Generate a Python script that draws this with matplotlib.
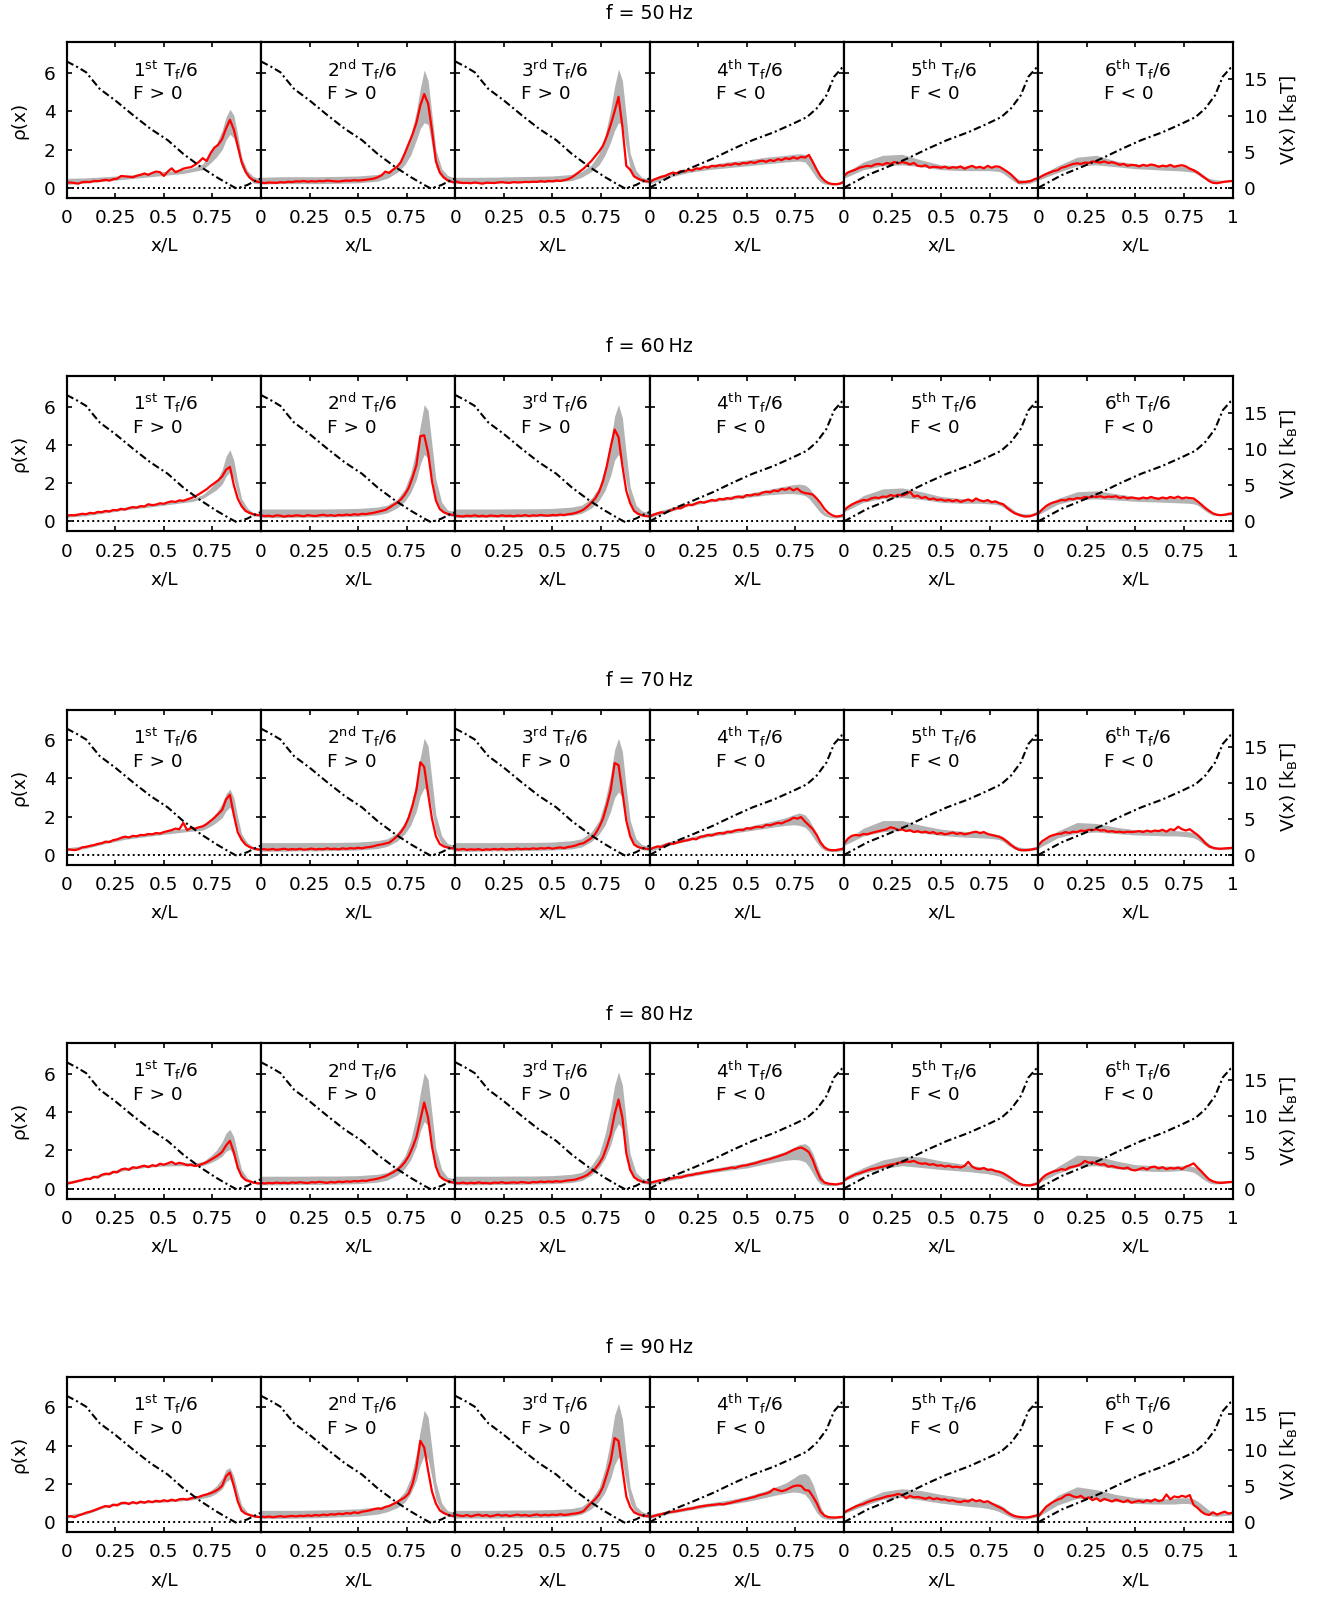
import numpy as np
import matplotlib.pyplot as plt

freqs = [50, 60, 70, 80, 90]
ordinals = [("1", "st"), ("2", "nd"), ("3", "rd"), ("4", "th"), ("5", "th"), ("6", "th")]
force_sign = [">", ">", ">", "<", "<", "<"]

# x positions of the grey band edges
x_band = [0, .1, .2, .3, .4, .5, .6, .65, .7, .74, .77, .8, .82, .84, .86, .88, .9, .93, .96, 1.0]

# tilted potentials V(x) in k_B T (F > 0 and F < 0)
x_vpos = [0, .05, .10, .13, .17, .25, .34, .43, .52, .60, .69, .77, .84, .875, .93, .98, 1.0]
v_pos = [17.5, 16.8, 16.0, 15.0, 13.7, 12.1, 10.1, 8.2, 6.6, 4.7, 2.9, 1.5, 0.4, -0.1, 0.4, 1.1, 1.3]
x_vneg = [0, .12, .225, .33, .43, .53, .64, .74, .81, .86, .91, .95, .99, 1.0]
v_neg = [0, 1.75, 2.9, 4.1, 5.4, 6.6, 7.7, 8.9, 9.8, 11.0, 12.8, 15.4, 16.6, 16.7]

# measured densities rho(x), one list per sixth of the period (x = 0 ... 1, step 0.02)
rho_50 = [
    [.27, .28, .25, .22, .30, .31, .30, .36, .35, .38, .42, .38, .45, .48, .62, .60, .58, .55, .63, .68,
     .75, .68, .78, .85, .82, .62, .85, 1.02, .82, .90, 1.00, 1.05, 1.08, 1.20, 1.35, 1.55, 1.40, 1.80, 2.10, 2.25,
     2.55, 3.10, 3.55, 3.05, 2.20, 1.35, .85, .55, .40, .32, .30],
    [.27, .25, .28, .27, .26, .30, .28, .32, .30, .34, .33, .36, .32, .35, .33, .36, .34, .38, .36, .34,
     .33, .36, .38, .37, .40, .38, .40, .42, .45, .48, .55, .65, .85, .78, .95, 1.10, 1.35, 1.80, 2.30, 2.80,
     3.40, 4.30, 4.90, 4.40, 3.00, 1.40, .80, .55, .40, .32, .26],
    [.35, .28, .25, .26, .24, .28, .25, .22, .27, .26, .25, .28, .30, .27, .26, .30, .28, .29, .31, .30,
     .32, .31, .35, .32, .36, .34, .38, .36, .40, .45, .55, .70, .85, 1.00, 1.20, 1.40, 1.65, 1.90, 2.20, 2.70,
     3.30, 4.00, 4.75, 3.20, 1.15, .95, .60, .48, .40, .35, .32],
    [.30, .42, .50, .58, .62, .72, .80, .75, .88, .85, .95, .90, 1.02, .98, 1.10, 1.05, 1.15, 1.12, 1.18, 1.15,
     1.22, 1.20, 1.28, 1.22, 1.30, 1.28, 1.35, 1.30, 1.38, 1.42, 1.36, 1.45, 1.40, 1.50, 1.45, 1.55, 1.50, 1.60, 1.52, 1.62,
     1.58, 1.72, 1.35, .95, .60, .38, .25, .20, .19, .22, .32],
    [.62, .80, .88, .95, 1.05, 1.10, 1.15, 1.12, 1.22, 1.25, 1.20, 1.30, 1.25, 1.35, 1.28, 1.35, 1.30, 1.22, 1.30, 1.15,
     1.12, 1.18, 1.05, 1.10, 1.08, 1.05, 1.10, 1.02, 1.08, 1.05, 1.12, 1.00, 1.08, 1.15, 1.05, 1.10, 1.02, 1.15, 1.05, 1.12,
     1.10, .98, .85, .70, .50, .28, .30, .32, .35, .45, .52],
    [.50, .62, .72, .80, .88, .92, 1.05, 1.10, 1.18, 1.25, 1.28, 1.25, 1.32, 1.30, 1.38, 1.35, 1.32, 1.38, 1.30, 1.34,
     1.28, 1.20, 1.25, 1.15, 1.20, 1.18, 1.12, 1.20, 1.15, 1.22, 1.18, 1.10, 1.16, 1.12, 1.20, 1.10, 1.15, 1.18, 1.12, 1.00,
     .92, .80, .65, .50, .35, .26, .24, .28, .32, .34, .36],
]
lo_50 = [
    [.18, .25, .35, .45, .55, .65, .75, .85, .95, 1.3, 1.6, 2.0, 2.5, 2.8, 2.6, 1.9, 1.1, .6, .25, .2],
    [.20, .22, .22, .22, .24, .26, .35, .50, .80, 1.20, 1.70, 2.50, 3.10, 3.40, 3.30, 2.20, 1.10, .55, .30, .25],
    [.22, .24, .25, .27, .28, .30, .38, .55, .85, 1.20, 1.70, 2.40, 3.00, 3.40, 3.30, 2.10, 1.00, .50, .30, .25],
    [.20, .55, .80, .95, 1.05, 1.15, 1.25, 1.30, 1.35, 1.38, 1.40, 1.35, 1.10, .80, .50, .30, .20, .15, .15, .25],
    [.50, .95, 1.15, 1.20, 1.10, .95, .90, .90, .90, .90, .88, .85, .75, .60, .45, .30, .20, .20, .25, .40],
    [.40, .80, 1.15, 1.20, 1.10, 1.00, .95, .92, .90, .88, .85, .80, .70, .55, .45, .35, .30, .30, .30, .35],
]
hi_50 = [
    [.50, .52, .58, .65, .75, .85, .95, 1.05, 1.25, 1.8, 2.3, 3.0, 3.7, 4.1, 3.8, 2.8, 1.6, .9, .6, .45],
    [.55, .58, .58, .58, .60, .62, .70, .85, 1.20, 1.80, 2.70, 4.00, 5.20, 6.15, 5.60, 3.80, 2.00, 1.00, .65, .50],
    [.55, .55, .56, .58, .60, .62, .70, .85, 1.20, 1.80, 2.70, 4.10, 5.30, 6.20, 5.60, 3.70, 1.80, .90, .55, .45],
    [.45, .80, 1.00, 1.20, 1.35, 1.45, 1.60, 1.65, 1.70, 1.75, 1.78, 1.75, 1.65, 1.40, 1.00, .60, .35, .25, .25, .40],
    [.75, 1.35, 1.70, 1.75, 1.45, 1.20, 1.15, 1.12, 1.12, 1.10, 1.10, 1.05, .95, .85, .70, .55, .45, .40, .45, .60],
    [.60, 1.15, 1.60, 1.70, 1.40, 1.25, 1.20, 1.18, 1.15, 1.12, 1.10, 1.00, .90, .75, .60, .50, .45, .40, .40, .45],
]

rho_60 = [
    [.30, .33, .32, .36, .40, .38, .45, .42, .50, .48, .55, .52, .60, .58, .66, .62, .70, .75, .72, .80,
     .78, .90, .85, .88, .95, .92, 1.00, 1.05, 1.02, 1.10, 1.08, 1.15, 1.22, 1.30, 1.42, 1.55, 1.68, 1.85, 2.00, 2.15,
     2.35, 2.70, 2.85, 1.90, 1.20, .80, .55, .45, .38, .34, .31],
    [.32, .28, .30, .26, .32, .30, .25, .30, .28, .32, .30, .27, .33, .30, .28, .32, .35, .30, .33, .29,
     .34, .32, .36, .33, .38, .35, .40, .38, .42, .45, .50, .55, .60, .72, .85, .98, 1.15, 1.40, 1.75, 2.30,
     2.95, 4.45, 4.50, 3.60, 2.10, 1.10, .65, .48, .40, .35, .32],
    [.30, .28, .26, .30, .28, .32, .27, .30, .26, .31, .29, .27, .32, .28, .30, .27, .31, .29, .33, .28,
     .32, .30, .34, .31, .30, .34, .32, .36, .33, .38, .40, .45, .52, .62, .78, .98, 1.20, 1.55, 2.10, 2.90,
     3.90, 4.80, 4.40, 2.90, 1.60, .95, .55, .40, .32, .28, .26],
    [.25, .35, .42, .48, .45, .55, .62, .70, .68, .80, .88, .85, .95, 1.02, .98, 1.05, 1.12, 1.08, 1.18, 1.15,
     1.22, 1.18, 1.28, 1.30, 1.25, 1.38, 1.35, 1.42, 1.40, 1.50, 1.55, 1.52, 1.62, 1.58, 1.70, 1.65, 1.75, 1.62, 1.72, 1.55,
     1.48, 1.45, 1.40, 1.20, .95, .65, .45, .32, .26, .28, .35],
    [.58, .75, .88, .98, 1.05, 1.12, 1.10, 1.20, 1.25, 1.22, 1.30, 1.28, 1.38, 1.32, 1.40, 1.35, 1.42, 1.55, 1.30, 1.35,
     1.22, 1.28, 1.15, 1.20, 1.12, 1.15, 1.08, 1.12, 1.05, 1.12, 1.02, 1.08, 1.15, 1.05, 1.20, 1.10, 1.05, 1.12, 1.00, 1.05,
     .95, .90, .70, .55, .42, .35, .28, .26, .28, .35, .43],
    [.42, .62, .80, .92, 1.00, 1.05, 1.12, 1.10, 1.18, 1.15, 1.22, 1.20, 1.28, 1.25, 1.30, 1.28, 1.32, 1.25, 1.30, 1.28,
     1.32, 1.22, 1.28, 1.20, 1.25, 1.22, 1.18, 1.25, 1.20, 1.28, 1.22, 1.18, 1.25, 1.20, 1.28, 1.22, 1.30, 1.20, 1.25, 1.22,
     1.20, 1.05, .88, .70, .55, .42, .35, .33, .35, .40, .42],
]
lo_60 = [
    [.22, .30, .45, .60, .72, .85, .98, 1.05, 1.20, 1.45, 1.65, 1.95, 2.35, 2.60, 2.20, 1.40, .85, .45, .28, .25],
    [.20, .20, .22, .22, .24, .26, .34, .45, .70, 1.05, 1.50, 2.20, 3.00, 3.50, 3.30, 2.30, 1.20, .55, .30, .25],
    [.20, .20, .22, .22, .24, .26, .32, .42, .70, 1.10, 1.60, 2.40, 3.20, 3.50, 3.10, 2.00, 1.00, .45, .28, .22],
    [.20, .50, .80, 1.00, 1.12, 1.25, 1.38, 1.42, 1.45, 1.45, 1.42, 1.35, 1.20, .95, .70, .45, .30, .20, .18, .25],
    [.50, 1.00, 1.20, 1.25, 1.15, 1.00, .95, .95, .95, .92, .90, .85, .75, .62, .50, .38, .28, .22, .25, .38],
    [.35, .90, 1.15, 1.18, 1.12, 1.05, 1.02, 1.00, .98, .96, .95, .92, .85, .70, .55, .42, .32, .30, .30, .35],
]
hi_60 = [
    [.40, .45, .60, .75, .88, 1.00, 1.12, 1.20, 1.40, 1.75, 2.10, 2.70, 3.40, 3.75, 3.20, 2.10, 1.20, .70, .45, .40],
    [.65, .65, .65, .65, .66, .68, .75, .85, 1.15, 1.70, 2.50, 3.80, 5.00, 6.10, 5.80, 4.00, 2.20, 1.00, .60, .50],
    [.65, .65, .65, .66, .66, .68, .75, .85, 1.20, 1.80, 2.80, 4.20, 5.50, 6.10, 5.40, 3.50, 1.80, .85, .55, .45],
    [.40, .70, .95, 1.15, 1.30, 1.45, 1.65, 1.75, 1.85, 1.92, 1.95, 1.90, 1.75, 1.50, 1.15, .80, .50, .30, .28, .40],
    [.70, 1.35, 1.70, 1.75, 1.55, 1.30, 1.20, 1.18, 1.15, 1.12, 1.10, 1.05, .95, .85, .70, .55, .45, .40, .40, .55],
    [.55, 1.20, 1.55, 1.60, 1.45, 1.30, 1.28, 1.25, 1.25, 1.22, 1.20, 1.15, 1.05, .90, .72, .55, .45, .40, .40, .45],
]

rho_70 = [
    [.30, .28, .26, .30, .40, .43, .48, .52, .58, .62, .70, .68, .78, .82, .90, .96, .92, 1.00, .98, 1.05,
     1.04, 1.10, 1.08, 1.15, 1.12, 1.20, 1.25, 1.30, 1.38, 1.35, 1.68, 1.30, 1.42, 1.38, 1.45, 1.50, 1.62, 1.78, 1.95, 2.15,
     2.35, 2.90, 3.15, 2.10, 1.20, .80, .55, .42, .35, .30, .27],
    [.32, .30, .28, .32, .27, .30, .33, .28, .31, .29, .33, .28, .30, .34, .29, .32, .30, .35, .31, .33,
     .30, .35, .32, .36, .34, .38, .35, .40, .42, .46, .52, .55, .60, .65, .80, .98, 1.20, 1.50, 1.95, 2.60,
     3.40, 4.85, 4.60, 3.20, 1.90, .98, .58, .45, .40, .36, .35],
    [.30, .28, .32, .27, .30, .28, .31, .26, .30, .28, .32, .29, .33, .28, .31, .30, .34, .30, .33, .31,
     .35, .32, .36, .34, .38, .33, .37, .40, .36, .42, .45, .50, .58, .62, .75, .88, 1.10, 1.45, 1.90, 2.60,
     3.40, 4.80, 4.70, 3.30, 1.80, .98, .55, .42, .36, .33, .31],
    [.30, .38, .45, .42, .52, .60, .58, .65, .70, .75, .78, .85, .82, .95, .98, 1.05, 1.02, 1.10, 1.15, 1.12,
     1.22, 1.20, 1.28, 1.32, 1.30, 1.40, 1.38, 1.45, 1.48, 1.45, 1.58, 1.55, 1.62, 1.68, 1.65, 1.75, 1.82, 1.95, 1.90, 1.98,
     1.75, 1.55, 1.35, 1.05, .65, .40, .28, .25, .26, .30, .35],
    [.58, .85, 1.00, 1.05, 1.02, 1.10, 1.08, 1.15, 1.20, 1.25, 1.30, 1.35, 1.45, 1.40, 1.30, 1.35, 1.25, 1.30, 1.20, 1.25,
     1.18, 1.22, 1.15, 1.20, 1.10, 1.15, 1.08, 1.12, 1.18, 1.10, 1.15, 1.08, 1.12, 1.18, 1.22, 1.15, 1.20, 1.10, 1.05, 1.00,
     .95, .85, .70, .52, .38, .28, .25, .26, .28, .32, .35],
    [.50, .72, .85, .98, 1.05, 1.10, 1.12, 1.20, 1.15, 1.22, 1.20, 1.28, 1.25, 1.32, 1.30, 1.35, 1.28, 1.30, 1.22, 1.25,
     1.20, 1.22, 1.18, 1.22, 1.20, 1.22, 1.25, 1.20, 1.28, 1.22, 1.28, 1.25, 1.32, 1.22, 1.35, 1.30, 1.48, 1.35, 1.28, 1.35,
     1.20, 1.05, .85, .62, .45, .38, .34, .33, .35, .36, .38],
]
lo_70 = [
    [.22, .35, .60, .82, .95, 1.08, 1.20, 1.25, 1.30, 1.50, 1.70, 1.95, 2.30, 2.50, 2.10, 1.35, .80, .45, .28, .22],
    [.20, .20, .22, .22, .24, .26, .34, .45, .72, 1.10, 1.55, 2.30, 3.10, 3.50, 3.30, 2.30, 1.20, .55, .30, .25],
    [.20, .20, .22, .22, .24, .26, .32, .42, .70, 1.10, 1.55, 2.30, 3.00, 3.30, 3.00, 2.00, 1.00, .45, .28, .22],
    [.20, .50, .75, .95, 1.10, 1.25, 1.40, 1.48, 1.55, 1.58, 1.55, 1.45, 1.25, .95, .65, .40, .25, .18, .18, .25],
    [.50, 1.00, 1.22, 1.28, 1.15, 1.02, .95, .92, .90, .88, .85, .80, .70, .55, .42, .30, .22, .20, .22, .30],
    [.35, .90, 1.15, 1.20, 1.12, 1.05, 1.02, 1.00, 1.00, .98, .95, .90, .80, .65, .50, .38, .30, .28, .28, .32],
]
hi_70 = [
    [.38, .50, .75, .98, 1.12, 1.25, 1.38, 1.45, 1.55, 1.85, 2.20, 2.70, 3.20, 3.45, 3.00, 2.00, 1.10, .65, .42, .38],
    [.65, .65, .65, .66, .66, .68, .75, .85, 1.15, 1.70, 2.50, 3.90, 5.10, 6.10, 5.70, 3.90, 2.10, 1.00, .60, .50],
    [.65, .65, .65, .66, .66, .68, .75, .85, 1.20, 1.80, 2.80, 4.20, 5.50, 6.10, 5.40, 3.50, 1.80, .85, .55, .45],
    [.40, .70, .92, 1.15, 1.30, 1.48, 1.70, 1.82, 1.95, 2.10, 2.20, 2.10, 1.85, 1.50, 1.10, .75, .45, .30, .28, .40],
    [.70, 1.40, 1.80, 1.80, 1.55, 1.35, 1.25, 1.22, 1.20, 1.15, 1.12, 1.05, .95, .80, .65, .50, .42, .38, .38, .48],
    [.55, 1.25, 1.70, 1.65, 1.45, 1.32, 1.30, 1.28, 1.28, 1.25, 1.22, 1.18, 1.08, .92, .75, .58, .45, .40, .40, .42],
]

rho_80 = [
    [.28, .30, .35, .40, .45, .52, .50, .62, .58, .72, .78, .75, .88, .85, 1.00, 1.05, .98, 1.12, 1.08, 1.15,
     1.20, 1.12, 1.22, 1.18, 1.30, 1.25, 1.32, 1.40, 1.28, 1.35, 1.30, 1.22, 1.25, 1.18, 1.22, 1.30, 1.38, 1.50, 1.62, 1.75,
     1.92, 2.25, 2.50, 1.90, 1.10, .65, .45, .38, .32, .28, .26],
    [.30, .27, .30, .28, .32, .29, .31, .28, .33, .30, .34, .31, .29, .34, .32, .36, .33, .30, .35, .32,
     .37, .34, .38, .36, .40, .38, .42, .40, .45, .48, .52, .58, .65, .75, .85, .98, 1.15, 1.38, 1.70, 2.15,
     2.70, 3.60, 4.50, 3.70, 2.20, 1.15, .65, .48, .40, .34, .31],
    [.30, .28, .32, .27, .31, .28, .33, .29, .30, .27, .32, .30, .34, .29, .31, .33, .30, .35, .32, .30,
     .35, .33, .37, .34, .38, .35, .39, .36, .40, .43, .45, .48, .55, .62, .72, .88, 1.05, 1.30, 1.65, 2.20,
     2.85, 3.90, 4.65, 3.70, 1.85, .98, .60, .45, .38, .33, .31],
    [.30, .35, .40, .45, .48, .52, .55, .60, .58, .65, .70, .72, .78, .80, .85, .88, .92, .95, .98, 1.02,
     1.05, 1.10, 1.08, 1.15, 1.20, 1.22, 1.28, 1.32, 1.38, 1.45, 1.50, 1.55, 1.62, 1.68, 1.75, 1.82, 1.92, 2.02, 2.10, 2.15,
     2.05, 1.90, 1.50, .95, .50, .32, .26, .24, .22, .26, .31],
    [.42, .55, .65, .75, .80, .88, .95, 1.02, 1.05, 1.10, 1.15, 1.20, 1.25, 1.28, 1.35, 1.38, 1.42, 1.40, 1.45, 1.35,
     1.30, 1.32, 1.25, 1.28, 1.20, 1.22, 1.15, 1.20, 1.12, 1.15, 1.10, 1.18, 1.40, 1.15, 1.05, 1.02, 1.08, .98, 1.00, .92,
     .88, .80, .68, .55, .40, .28, .20, .18, .17, .22, .28],
    [.28, .55, .72, .82, .90, .95, 1.02, .98, 1.10, 1.15, 1.20, 1.28, 1.45, 1.35, 1.38, 1.30, 1.25, 1.28, 1.15, 1.18,
     1.12, 1.08, 1.05, 1.10, .98, .95, 1.02, 1.08, 1.00, 1.12, 1.15, 1.05, 1.12, 1.02, 1.08, 1.05, 1.10, 1.02, 1.15, 1.22,
     1.32, 1.10, .90, .68, .48, .38, .32, .30, .32, .34, .35],
]
lo_80 = [
    [.22, .45, .70, .95, 1.10, 1.18, 1.20, 1.18, 1.20, 1.35, 1.50, 1.70, 1.95, 2.05, 1.70, 1.10, .65, .40, .28, .22],
    [.20, .20, .22, .22, .24, .26, .34, .45, .70, 1.05, 1.50, 2.20, 3.00, 3.50, 3.30, 2.30, 1.20, .55, .30, .25],
    [.20, .20, .22, .22, .24, .26, .32, .42, .70, 1.10, 1.55, 2.30, 3.00, 3.40, 3.10, 2.00, 1.00, .45, .28, .22],
    [.20, .42, .62, .80, .95, 1.08, 1.30, 1.40, 1.48, 1.52, 1.50, 1.40, 1.15, .80, .45, .25, .18, .15, .18, .25],
    [.40, .80, 1.05, 1.20, 1.10, 1.00, .92, .88, .82, .78, .72, .65, .55, .42, .30, .20, .15, .12, .15, .25],
    [.30, .80, 1.15, 1.20, 1.05, .95, .90, .90, .92, .95, .92, .85, .72, .55, .42, .30, .25, .25, .28, .32],
]
hi_80 = [
    [.38, .58, .85, 1.10, 1.25, 1.32, 1.38, 1.35, 1.40, 1.70, 2.00, 2.45, 2.90, 3.10, 2.70, 1.80, 1.00, .55, .40, .35],
    [.65, .65, .65, .66, .66, .68, .75, .85, 1.15, 1.70, 2.50, 3.80, 5.00, 6.05, 5.70, 3.90, 2.10, 1.00, .60, .50],
    [.65, .65, .65, .66, .66, .68, .75, .85, 1.20, 1.80, 2.80, 4.20, 5.40, 6.10, 5.40, 3.50, 1.80, .85, .55, .45],
    [.40, .62, .82, 1.00, 1.18, 1.35, 1.62, 1.78, 1.95, 2.15, 2.30, 2.35, 2.20, 1.85, 1.30, .75, .40, .28, .28, .40],
    [.60, 1.10, 1.50, 1.70, 1.65, 1.45, 1.30, 1.22, 1.15, 1.08, 1.02, .95, .85, .70, .55, .40, .30, .25, .28, .40],
    [.50, 1.15, 1.75, 1.70, 1.45, 1.25, 1.20, 1.18, 1.18, 1.20, 1.20, 1.15, 1.05, .88, .70, .52, .42, .40, .40, .42],
]

rho_90 = [
    [.30, .32, .26, .35, .42, .50, .55, .62, .70, .78, .85, .80, .92, .88, 1.00, 1.02, .95, 1.05, .98, 1.08,
     1.02, 1.10, 1.05, 1.12, 1.08, 1.15, 1.10, 1.18, 1.12, 1.20, 1.22, 1.18, 1.25, 1.30, 1.32, 1.40, 1.45, 1.52, 1.60, 1.72,
     1.90, 2.40, 2.60, 1.90, 1.10, .60, .45, .38, .32, .28, .26],
    [.30, .27, .30, .26, .29, .32, .28, .31, .33, .30, .34, .32, .36, .33, .38, .35, .40, .37, .42, .40,
     .45, .42, .48, .45, .52, .48, .55, .58, .62, .68, .72, .70, .80, .85, .95, 1.05, 1.18, 1.30, 1.50, 2.00,
     2.85, 4.25, 3.90, 2.70, 1.60, .98, .62, .48, .40, .34, .31],
    [.40, .35, .32, .38, .30, .36, .40, .33, .38, .30, .35, .40, .34, .38, .32, .36, .40, .35, .38, .33,
     .37, .41, .35, .39, .36, .40, .37, .42, .38, .40, .44, .46, .50, .58, .80, 1.02, 1.20, 1.45, 1.85, 2.50,
     3.20, 4.40, 4.25, 2.80, 1.35, .80, .52, .42, .36, .33, .31],
    [.26, .32, .38, .42, .48, .52, .55, .58, .62, .66, .70, .72, .78, .82, .85, .88, .90, .92, .95, .93,
     .98, 1.02, 1.08, 1.12, 1.18, 1.22, 1.28, 1.32, 1.40, 1.45, 1.50, 1.58, 1.75, 1.68, 1.62, 1.68, 1.78, 1.88, 1.92, 1.90,
     1.68, 1.65, 1.35, 1.00, .55, .35, .27, .25, .25, .27, .28],
    [.50, .62, .72, .82, .90, .95, 1.05, 1.12, 1.18, 1.22, 1.28, 1.35, 1.38, 1.42, 1.48, 1.42, 1.25, 1.38, 1.30, 1.32,
     1.28, 1.22, 1.30, 1.20, 1.25, 1.18, 1.20, 1.12, 1.15, 1.08, 1.05, 1.12, 1.08, 1.20, 1.10, 1.15, 1.05, 1.10, .98, .88,
     .78, .68, .52, .40, .32, .28, .26, .25, .28, .33, .38],
    [.28, .55, .80, .95, 1.08, 1.18, 1.25, 1.40, 1.45, 1.35, 1.30, 1.38, 1.22, 1.30, 1.15, 1.25, 1.10, 1.22, 1.15, 1.08,
     1.18, 1.12, 1.05, 1.15, 1.02, 1.08, 1.12, 1.05, 1.15, 1.08, 1.20, 1.10, 1.15, 1.45, 1.20, 1.35, 1.30, 1.38, 1.32, 1.42,
     .90, .75, .55, .42, .38, .52, .40, .48, .55, .45, .50],
]
lo_90 = [
    [.22, .42, .78, .95, 1.00, 1.05, 1.12, 1.18, 1.25, 1.35, 1.50, 1.75, 2.10, 2.25, 1.80, 1.10, .60, .38, .28, .22],
    [.20, .20, .22, .24, .28, .32, .42, .55, .75, 1.05, 1.50, 2.20, 3.00, 3.50, 3.30, 2.30, 1.20, .55, .30, .25],
    [.22, .22, .22, .24, .24, .26, .32, .42, .70, 1.10, 1.55, 2.30, 3.00, 3.40, 3.10, 2.00, 1.00, .45, .28, .22],
    [.20, .45, .62, .80, .92, 1.08, 1.30, 1.42, 1.52, 1.58, 1.55, 1.45, 1.20, .85, .50, .28, .18, .15, .18, .25],
    [.45, .85, 1.20, 1.30, 1.15, 1.00, .88, .82, .78, .72, .65, .55, .45, .35, .25, .18, .15, .15, .20, .30],
    [.30, .90, 1.25, 1.22, 1.08, .98, .95, .95, .95, .98, .98, .92, .80, .62, .48, .38, .32, .32, .35, .40],
]
hi_90 = [
    [.38, .55, .92, 1.08, 1.12, 1.18, 1.28, 1.35, 1.45, 1.65, 1.90, 2.30, 2.75, 2.85, 2.40, 1.60, .90, .52, .40, .35],
    [.62, .62, .62, .64, .66, .70, .80, .90, 1.15, 1.60, 2.30, 3.60, 4.80, 5.85, 5.50, 3.80, 2.10, 1.00, .60, .50],
    [.62, .62, .62, .64, .64, .66, .72, .82, 1.20, 1.80, 2.80, 4.30, 5.60, 6.20, 5.40, 3.50, 1.80, .85, .55, .45],
    [.40, .62, .82, 1.00, 1.15, 1.35, 1.65, 1.85, 2.05, 2.30, 2.50, 2.55, 2.40, 2.00, 1.40, .80, .42, .28, .28, .40],
    [.62, 1.15, 1.60, 1.75, 1.65, 1.45, 1.30, 1.22, 1.15, 1.10, 1.02, .92, .80, .65, .50, .38, .30, .28, .32, .45],
    [.50, 1.40, 1.85, 1.70, 1.45, 1.28, 1.22, 1.22, 1.25, 1.28, 1.28, 1.22, 1.10, .95, .78, .62, .52, .48, .50, .55],
]

rows = [(rho_50, lo_50, hi_50), (rho_60, lo_60, hi_60), (rho_70, lo_70, hi_70),
        (rho_80, lo_80, hi_80), (rho_90, lo_90, hi_90)]

W, H = 1322, 1598
left0, pw = 66.7, 194.3
top0, pitch, ph = 42.3, 333.6, 155.5
FS = 13.3
DASHDOT = (0, (3.6, 1.5, 1.0, 1.5))

fig = plt.figure(figsize=(W / 100, H / 100), dpi=100)

for r, (f, (rho_row, lo_row, hi_row)) in enumerate(zip(freqs, rows)):
    top = top0 + r * pitch
    fig.text((left0 + 3 * pw) / W, 1 - (top - 29) / H, f"f = {f}\u2009Hz",
             ha="center", va="center", fontsize=13.7)
    for c in range(6):
        ax = fig.add_axes([(left0 + c * pw) / W, 1 - (top + ph) / H, pw / W, ph / H])
        rho = rho_row[c]
        x_rho = np.linspace(0, 1, len(rho))
        ax.fill_between(x_band, lo_row[c], hi_row[c], color="#b3b3b3", lw=0)
        ax.plot(x_rho, rho, color="red", lw=1.6)
        ax.axhline(0, color="black", lw=1.4, ls=(0, (1, 1.6)))
        ax.set_xlim(0, 1)
        ax.set_ylim(-0.52, 7.6)

        axv = ax.twinx()
        if c < 3:
            axv.plot(x_vpos, v_pos, color="black", lw=1.5, ls=DASHDOT)
        else:
            axv.plot(x_vneg, v_neg, color="black", lw=1.5, ls=DASHDOT)
        axv.set_ylim(-1.38, 20.15)

        ax.set_xticks([0, 0.25, 0.5, 0.75, 1])
        ax.set_xticklabels(["0", "0.25", "0.5", "0.75", "1" if c == 5 else ""])
        ax.set_yticks([0, 2, 4, 6])
        ax.tick_params(direction="in", top=True, right=(c < 5), left=True,
                       labelleft=(c == 0), length=3.5, width=1.2, labelsize=FS, pad=8)
        if c == 5:
            axv.set_yticks([0, 5, 10, 15])
            axv.tick_params(direction="in", right=True, length=3.5, width=1.2,
                            labelsize=FS, pad=8)
            axv.set_ylabel(r"V(x) [k$_\mathrm{B}$T]", fontsize=FS, labelpad=8)
        else:
            axv.set_yticks([])
        for a in (ax, axv):
            for s in a.spines.values():
                s.set_linewidth(1.5)

        if c == 0:
            ax.set_ylabel("ρ(x)", fontsize=FS, labelpad=11)
        ax.set_xlabel("x/L", fontsize=FS, labelpad=7)

        num, suf = ordinals[c]
        ax.text(0.34, 0.779, num + r"$^{\mathrm{" + suf + r"}}$ T$_\mathrm{f}$/6",
                transform=ax.transAxes, fontsize=FS, ha="left", va="baseline")
        ax.text(0.34, 0.633, f"F {force_sign[c]} 0", transform=ax.transAxes,
                fontsize=FS, ha="left", va="baseline")

fig.savefig("out.png", dpi=100)
